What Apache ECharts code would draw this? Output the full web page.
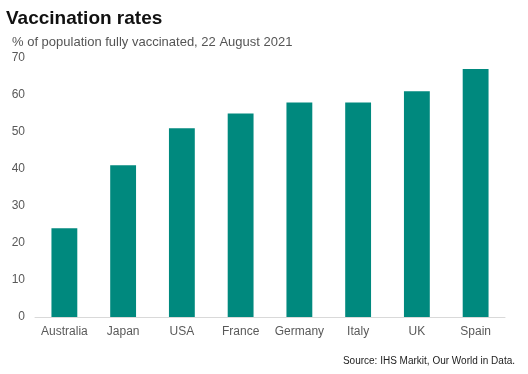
<!DOCTYPE html>
<html><head><meta charset="utf-8">
<script src="https://cdn.jsdelivr.net/npm/echarts@6/dist/echarts.min.js"></script>
<style>html,body{margin:0;padding:0;background:#fff}#c{width:528px;height:374px}</style>
</head><body><div id="c"></div>
<script>
const categories = ["Australia","Japan","USA","France","Germany","Italy","UK","Spain"];
const values = [24, 41, 51, 55, 58, 58, 61, 67];
const yTicks = [0,10,20,30,40,50,60,70];

const chart = echarts.init(document.getElementById('c'), null, {renderer:'canvas'});
chart.setOption({
  animation: false,
  backgroundColor: '#fff',
  title: [
    {text: 'Vaccination rates', left: 1, top: 4,
     textStyle: {fontFamily: 'Liberation Sans, Arial', fontWeight: 'bold', fontSize: 19, color: '#111'}},
    {text: '% of population fully vaccinated, 22 August 2021', left: 7, top: 31,
     textStyle: {fontFamily: 'Liberation Sans, Arial', fontWeight: 'normal', fontSize: 13, color: '#555'}},
    {text: 'Source: IHS Markit, Our World in Data.', right: 8, top: 351,
     textStyle: {fontFamily: 'Liberation Sans, Arial', fontWeight: 'normal', fontSize: 10, color: '#222'}}
  ],
  grid: {left: 35, right: 23, top: 58, bottom: 57, containLabel: false},
  xAxis: {
    type: 'category', data: categories,
    axisLine: {lineStyle: {color: '#d9d9d9', width: 1}},
    axisTick: {show: false},
    axisLabel: {interval: 0, color: '#595959', fontSize: 12, fontFamily: 'Liberation Sans, Arial', margin: 9}
  },
  yAxis: {
    type: 'value', min: yTicks[0], max: yTicks[yTicks.length-1], interval: 10,
    splitLine: {show: false},
    axisLine: {show: false}, axisTick: {show: false},
    axisLabel: {color: '#595959', fontSize: 12, fontFamily: 'Liberation Sans, Arial', margin: 10}
  },
  series: [{
    type: 'bar', data: values, barWidth: '44%',
    itemStyle: {color: '#00897e'}
  }]
});
</script></body></html>
